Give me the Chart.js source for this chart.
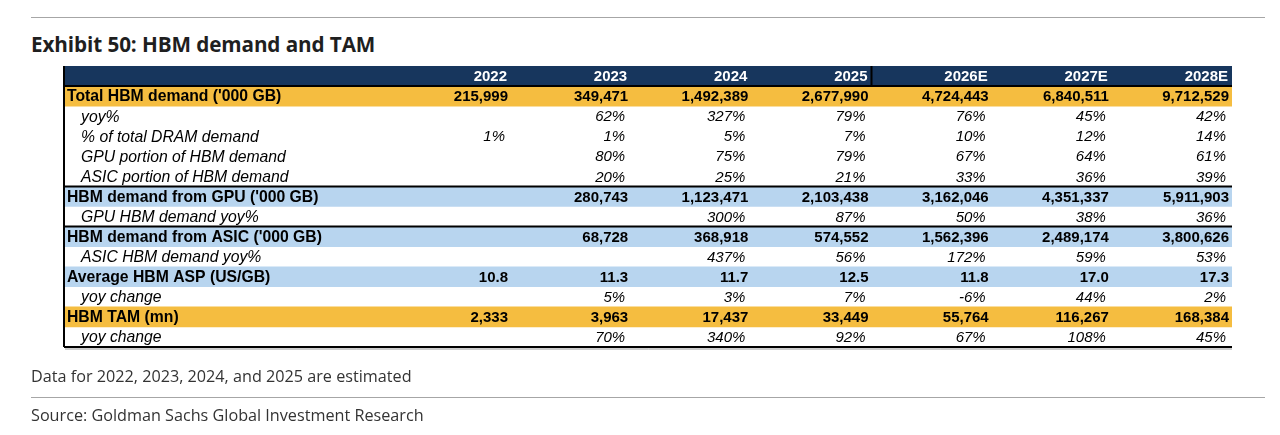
<!DOCTYPE html>
<html>
<head>
<meta charset="utf-8">
<script src="https://cdn.jsdelivr.net/npm/chart.js@4.4.1/dist/chart.umd.min.js"></script>
<style>
  html, body { margin: 0; padding: 0; background: #ffffff; }
  body { width: 1280px; height: 435px; position: relative; overflow: hidden; font-family: "Open Sans", "Noto Sans", sans-serif; }
  .rule { position: absolute; left: 31px; width: 1234px; height: 0; border-top: 1px solid #a6a6a6; }
  .title { position: absolute; left: 31px; top: 31px; font-size: 20.7px; line-height: 26px; font-weight: 700; color: #1f1f1f; letter-spacing: -0.1px; }
  .note { position: absolute; left: 31px; font-size: 16.2px; line-height: 20px; color: #333333; }
  #wrap { position: absolute; left: 0; top: 0; width: 1280px; height: 435px; }
</style>
</head>
<body>
<div class="rule" style="top:17px"></div>
<div class="title">Exhibit 50: HBM demand and TAM</div>
<div id="wrap"><canvas id="c" width="1280" height="435"></canvas></div>
<div class="note" style="top:366px">Data for 2022, 2023, 2024, and 2025 are estimated</div>
<div class="rule" style="top:397px"></div>
<div class="note" style="top:405px">Source: Goldman Sachs Global Investment Research</div>
<script>
// ---- Data ----
const years = ['2022', '2023', '2024', '2025', '2026E', '2027E', '2028E'];
const rowLabels = [
  "Total HBM demand ('000 GB)",
  "yoy%",
  "% of total DRAM demand",
  "GPU portion of HBM demand",
  "ASIC portion of HBM demand",
  "HBM demand from GPU ('000 GB)",
  "GPU HBM demand yoy%",
  "HBM demand from ASIC ('000 GB)",
  "ASIC HBM demand yoy%",
  "Average HBM ASP (US/GB)",
  "yoy change",
  "HBM TAM (mn)",
  "yoy change"
];
const totalDemand = [215999, 349471, 1492389, 2677990, 4724443, 6840511, 9712529];
const totalDemandYoy = [null, 62, 327, 79, 76, 45, 42];
const dramShare = [1, 1, 5, 7, 10, 12, 14];
const gpuShare = [null, 80, 75, 79, 67, 64, 61];
const asicShare = [null, 20, 25, 21, 33, 36, 39];
const gpuDemand = [null, 280743, 1123471, 2103438, 3162046, 4351337, 5911903];
const gpuDemandYoy = [null, null, 300, 87, 50, 38, 36];
const asicDemand = [null, 68728, 368918, 574552, 1562396, 2489174, 3800626];
const asicDemandYoy = [null, null, 437, 56, 172, 59, 53];
const aspUsd = [10.8, 11.3, 11.7, 12.5, 11.8, 17.0, 17.3];
const aspYoy = [null, 5, 3, 7, -6, 44, 2];
const tamMn = [2333, 3963, 17437, 33449, 55764, 116267, 168384];
const tamYoy = [null, 70, 340, 92, 67, 108, 45];

const rowValues = [totalDemand, totalDemandYoy, dramShare, gpuShare, asicShare, gpuDemand, gpuDemandYoy,
                   asicDemand, asicDemandYoy, aspUsd, aspYoy, tamMn, tamYoy];
const rowFormat = ['int', 'pct', 'pct', 'pct', 'pct', 'int', 'pct', 'int', 'pct', 'dec', 'pct', 'int', 'pct'];
const rowKind = ['gold', 'sub', 'sub', 'sub', 'sub', 'blue', 'sub', 'blue', 'sub', 'blue', 'sub', 'gold', 'sub'];
const ruleAbove = [5, 7]; // indexes into rowLabels with a black rule on top

// ---- Styles ----
const COLORS = { head: '#17365d', gold: '#f5bd40', blue: '#b8d5ef', sub: 'rgba(0,0,0,0)' };
const LABEL_COL = 2.72; // width of label column in units of one data column
const FONT = '"Liberation Sans", Arial, sans-serif';

function fmt(v, f) {
  if (v === null || v === undefined) return '';
  if (f === 'pct') return v + '%';
  if (f === 'dec') return v.toFixed(1);
  return v.toLocaleString('en-US');
}

const categories = [''].concat(rowLabels);
const xMax = LABEL_COL + years.length;
const bandData = categories.map(() => [0, xMax]);
const bandColors = categories.map((c, i) => i === 0 ? COLORS.head : COLORS[rowKind[i - 1]]);

const tablePlugin = {
  id: 'tableText',
  afterDatasetsDraw(chart) {
    const ctx = chart.ctx;
    const xs = chart.scales.x, ys = chart.scales.y;
    const area = chart.chartArea;
    const rowH = Math.abs(ys.getPixelForValue(1) - ys.getPixelForValue(0));
    ctx.save();
    ctx.textBaseline = 'middle';
    // header
    const hy = ys.getPixelForValue(0);
    ctx.fillStyle = '#ffffff';
    ctx.font = 'bold 15px ' + FONT;
    ctx.textAlign = 'right';
    years.forEach((y, j) => {
      ctx.fillText(y, xs.getPixelForValue(LABEL_COL + j + 1) - 4, hy + 1);
    });
    ctx.strokeStyle = '#000000';
    ctx.lineWidth = 2;
    const line = (x1, y1, x2, y2) => { ctx.beginPath(); ctx.moveTo(x1, y1); ctx.lineTo(x2, y2); ctx.stroke(); };
    // 2025 header cell separator
    const sepX = xs.getPixelForValue(LABEL_COL + 4);
    line(sepX, hy - rowH / 2, sepX, hy + rowH / 2);
    // body
    rowLabels.forEach((lab, i) => {
      const cy = ys.getPixelForValue(i + 1) + 1;
      const bold = rowKind[i] !== 'sub';
      ctx.fillStyle = '#000000';
      ctx.textAlign = 'left';
      ctx.font = (bold ? 'bold ' : 'italic ') + '15.75px ' + FONT;
      ctx.fillText(lab, area.left + (bold ? 3 : 17), cy);
      ctx.textAlign = 'right';
      ctx.font = (bold ? 'bold ' : 'italic ') + '15px ' + FONT;
      rowValues[i].forEach((v, j) => {
        const t = fmt(v, rowFormat[i]);
        if (!t) return;
        ctx.fillText(t, xs.getPixelForValue(LABEL_COL + j + 1) - (bold ? 3 : 6), cy);
      });
    });
    // rules
    line(area.left, hy + rowH / 2, area.right, hy + rowH / 2);
    ruleAbove.forEach(r => {
      const yy = ys.getPixelForValue(r + 1) - rowH / 2;
      line(area.left, yy, area.right, yy);
    });
    // outer frame: left and bottom
    line(area.left, area.top, area.left, area.bottom);
    line(area.left, area.bottom, area.right, area.bottom);
    ctx.strokeStyle = '#9a9a9a';
    ctx.lineWidth = 1;
    line(area.left + 1, area.bottom + 2, area.right, area.bottom + 2);
    ctx.restore();
  }
};

new Chart(document.getElementById('c'), {
  type: 'bar',
  data: {
    labels: categories,
    datasets: [{
      data: bandData,
      backgroundColor: bandColors,
      borderWidth: 0,
      barPercentage: 1,
      categoryPercentage: 1
    }]
  },
  options: {
    indexAxis: 'y',
    responsive: false,
    animation: false,
    devicePixelRatio: 1,
    layout: { padding: { left: 64, right: 48, top: 66, bottom: 88 } },
    plugins: { legend: { display: false }, tooltip: { enabled: false }, title: { display: false } },
    scales: {
      x: { type: 'linear', min: 0, max: xMax, display: false },
      y: { type: 'category', display: false, offset: true, grid: { display: false } }
    }
  },
  plugins: [tablePlugin]
});
</script>
</body>
</html>
